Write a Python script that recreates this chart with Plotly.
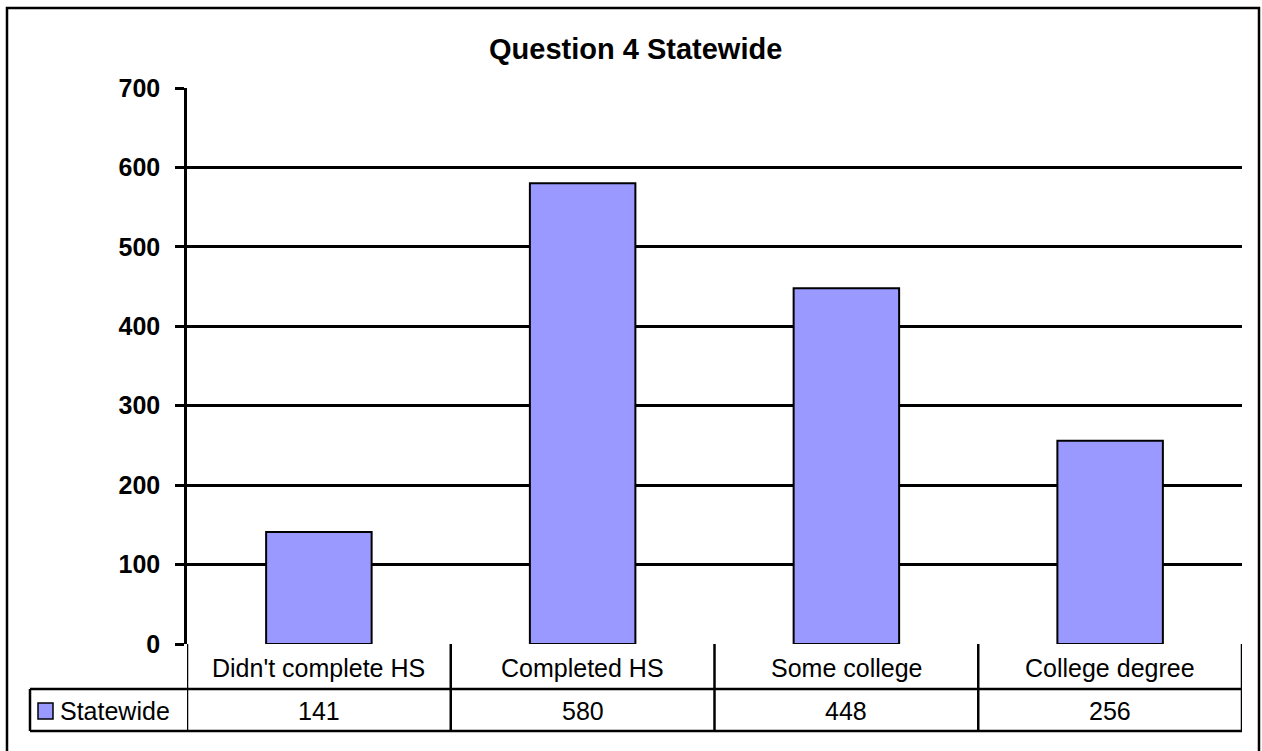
import plotly.graph_objects as go

categories = ["Didn't complete HS", "Completed HS", "Some college", "College degree"]
series_name = "Statewide"
values = [141, 580, 448, 256]
title_text = "Question 4 Statewide"
y_ticks = [0, 100, 200, 300, 400, 500, 600, 700]

W, H = 1262, 751
L, R, T, B = 187, 1242, 88, 644
pw, ph = R - L, B - T

def px(x):
    return (x - L) / pw

def py(y):
    return (B - y) / ph

FONT = "Arial, Liberation Sans, sans-serif"
BAR = "#9999FF"
LW = 2.5

fig = go.Figure()
fig.add_trace(go.Bar(
    x=list(range(len(categories))), y=values, name=series_name,
    marker=dict(color=BAR, line=dict(color="black", width=2)),
    width=0.4, showlegend=False, hoverinfo="y",
))

shapes = []
# outer border (bottom edge runs past the visible page)
shapes.append(dict(type="rect", xref="paper", yref="paper",
                   x0=px(7), x1=px(1259), y0=py(760), y1=py(8),
                   line=dict(color="black", width=LW), layer="above"))
# table lines
n = len(categories)
row1 = 689
row2 = 731
for i in range(n + 1):
    shapes.append(dict(type="line", xref="x", yref="paper",
                       x0=i - 0.5, x1=i - 0.5, y0=py(B), y1=py(row2),
                       line=dict(color="black", width=LW)))
for yy in (row1, row2):
    shapes.append(dict(type="line", xref="paper", yref="paper",
                       x0=px(30), x1=1, y0=py(yy), y1=py(yy),
                       line=dict(color="black", width=LW)))
shapes.append(dict(type="line", xref="paper", yref="paper",
                   x0=px(30), x1=px(30), y0=py(row1), y1=py(row2),
                   line=dict(color="black", width=LW)))
# legend key
shapes.append(dict(type="rect", xref="paper", yref="paper",
                   x0=px(38), x1=px(53), y0=py(719), y1=py(703),
                   fillcolor=BAR, line=dict(color="black", width=1.5)))

TS = 25
annotations = []
for i, (c, v) in enumerate(zip(categories, values)):
    annotations.append(dict(x=i, y=py((B + row1) / 2 + 1), xref="x", yref="paper",
                            text=c, showarrow=False, xanchor="center", yanchor="middle",
                            font=dict(family=FONT, size=TS, color="black")))
    annotations.append(dict(x=i, y=py((row1 + row2) / 2 + 1), xref="x", yref="paper",
                            text=str(v), showarrow=False, xanchor="center", yanchor="middle",
                            font=dict(family=FONT, size=TS, color="black")))
annotations.append(dict(x=px(58), y=py((row1 + row2) / 2 + 1), xref="paper", yref="paper",
                        text=series_name, showarrow=False, xanchor="left", yanchor="middle",
                        font=dict(family=FONT, size=TS, color="black")))
annotations.append(dict(x=px(635), y=py(49), xref="paper", yref="paper",
                        text="<b>" + title_text + "</b>", showarrow=False,
                        xanchor="center", yanchor="middle",
                        font=dict(family=FONT, size=29, color="black")))

fig.update_layout(
    width=W, height=H,
    margin=dict(l=L, r=W - R, t=T, b=H - B, pad=0),
    paper_bgcolor="white", plot_bgcolor="white",
    shapes=shapes, annotations=annotations,
    xaxis=dict(range=[-0.5, n - 0.5], showticklabels=False, showgrid=False,
               zeroline=False, showline=False, ticks="", fixedrange=True),
    yaxis=dict(range=[0, 700], tickvals=y_ticks, showgrid=True, gridcolor="black",
               gridwidth=LW, zeroline=False, showline=True, linecolor="black", linewidth=LW,
               ticks="outside", ticklen=9, tickwidth=LW, tickcolor="black",
               tickfont=dict(family=FONT, size=25, color="black", weight="bold"),
               ticklabelstandoff=10, fixedrange=True),
    bargap=0.6,
    font=dict(family=FONT),
)

fig.write_html("out.html", config={"displayModeBar": False},
               post_script="document.body.style.margin='0';document.body.style.overflow='hidden';")
